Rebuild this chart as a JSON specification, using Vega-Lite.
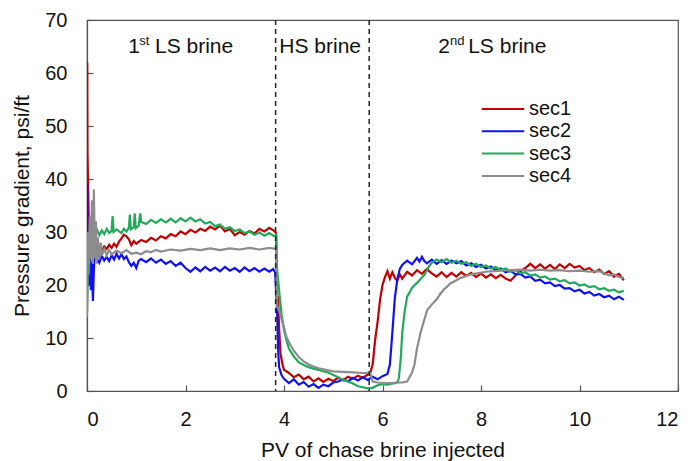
{
  "$schema": "https://vega.github.io/schema/vega-lite/v6.json",
  "width": 591,
  "height": 371,
  "autosize": {"type": "none"},
  "padding": {"left": 87, "top": 20, "right": 13, "bottom": 70},
  "background": "white",
  "config": {
    "font": "Liberation Sans",
    "view": {"stroke": "#555555", "strokeWidth": 1.2},
    "axis": {
      "grid": false,
      "domainColor": "#555555",
      "domainWidth": 1.2,
      "tickColor": "#555555",
      "tickWidth": 1.2,
      "tickSize": -6,
      "labelFont": "Liberation Sans",
      "labelFontSize": 20,
      "labelColor": "#111111",
      "titleFont": "Liberation Sans",
      "titleFontSize": 21,
      "titleFontWeight": "normal",
      "titleColor": "#111111"
    },
    "legend": {
      "orient": "none",
      "legendX": 406,
      "legendY": 79,
      "padding": 0,
      "symbolType": "M-3,0H3",
      "symbolSize": 200,
      "symbolStrokeWidth": 2,
      "labelFont": "Liberation Sans",
      "labelFontSize": 20,
      "labelColor": "#111111",
      "labelOffset": 16,
      "rowPadding": 2.3,
      "title": null
    }
  },
  "datasets": {
    "series": [
      {"s":"sec1","x":0,"y":15},{"s":"sec1","x":0.005,"y":62},{"s":"sec1","x":0.01,"y":45},{"s":"sec1","x":0.02,"y":40},{"s":"sec1","x":0.04,"y":30},{"s":"sec1","x":0.06,"y":22},{"s":"sec1","x":0.1,"y":24},{"s":"sec1","x":0.15,"y":26},{"s":"sec1","x":0.2,"y":25.5},{"s":"sec1","x":0.25,"y":27},{"s":"sec1","x":0.3,"y":26.5},{"s":"sec1","x":0.35,"y":27.3},{"s":"sec1","x":0.4,"y":26.8},{"s":"sec1","x":0.45,"y":27.6},{"s":"sec1","x":0.5,"y":27},{"s":"sec1","x":0.55,"y":27.8},{"s":"sec1","x":0.6,"y":27.2},{"s":"sec1","x":0.65,"y":28.2},{"s":"sec1","x":0.7,"y":28.8},{"s":"sec1","x":0.75,"y":29.5},{"s":"sec1","x":0.8,"y":29.2},{"s":"sec1","x":0.85,"y":28.6},{"s":"sec1","x":0.9,"y":27.5},{"s":"sec1","x":0.95,"y":28.3},{"s":"sec1","x":1.0,"y":27.8},{"s":"sec1","x":1.1,"y":28.5},{"s":"sec1","x":1.2,"y":28.1},{"s":"sec1","x":1.3,"y":28.9},{"s":"sec1","x":1.4,"y":28.4},{"s":"sec1","x":1.5,"y":29.2},{"s":"sec1","x":1.6,"y":28.8},{"s":"sec1","x":1.7,"y":29.6},{"s":"sec1","x":1.8,"y":29.2},{"s":"sec1","x":1.9,"y":30.1},{"s":"sec1","x":2.0,"y":29.6},{"s":"sec1","x":2.1,"y":30.4},{"s":"sec1","x":2.2,"y":29.9},{"s":"sec1","x":2.3,"y":30.6},{"s":"sec1","x":2.4,"y":30.2},{"s":"sec1","x":2.5,"y":31},{"s":"sec1","x":2.6,"y":30.5},{"s":"sec1","x":2.7,"y":31.2},{"s":"sec1","x":2.8,"y":30.1},{"s":"sec1","x":2.9,"y":30.6},{"s":"sec1","x":3.0,"y":29.4},{"s":"sec1","x":3.1,"y":30},{"s":"sec1","x":3.2,"y":29.5},{"s":"sec1","x":3.3,"y":30.2},{"s":"sec1","x":3.4,"y":29.7},{"s":"sec1","x":3.5,"y":30.6},{"s":"sec1","x":3.6,"y":30.1},{"s":"sec1","x":3.7,"y":30.8},{"s":"sec1","x":3.8,"y":30.2},{"s":"sec1","x":3.84,"y":29.8},{"s":"sec1","x":3.86,"y":18},{"s":"sec1","x":3.88,"y":17.5},{"s":"sec1","x":3.9,"y":12},{"s":"sec1","x":3.93,"y":7},{"s":"sec1","x":3.97,"y":5},{"s":"sec1","x":4.0,"y":4},{"s":"sec1","x":4.1,"y":3.4},{"s":"sec1","x":4.2,"y":2.6},{"s":"sec1","x":4.3,"y":3.1},{"s":"sec1","x":4.4,"y":2.2},{"s":"sec1","x":4.5,"y":2.7},{"s":"sec1","x":4.6,"y":1.8},{"s":"sec1","x":4.7,"y":2.4},{"s":"sec1","x":4.8,"y":1.7},{"s":"sec1","x":4.9,"y":2.3},{"s":"sec1","x":5.0,"y":1.9},{"s":"sec1","x":5.1,"y":2.5},{"s":"sec1","x":5.2,"y":2},{"s":"sec1","x":5.3,"y":2.7},{"s":"sec1","x":5.4,"y":2.3},{"s":"sec1","x":5.5,"y":2.9},{"s":"sec1","x":5.6,"y":2.5},{"s":"sec1","x":5.7,"y":3.1},{"s":"sec1","x":5.75,"y":3.4},{"s":"sec1","x":5.8,"y":5},{"s":"sec1","x":5.85,"y":9.6},{"s":"sec1","x":5.9,"y":13},{"s":"sec1","x":5.95,"y":17.2},{"s":"sec1","x":6.0,"y":20},{"s":"sec1","x":6.05,"y":21.5},{"s":"sec1","x":6.1,"y":22.6},{"s":"sec1","x":6.15,"y":21.2},{"s":"sec1","x":6.2,"y":22.4},{"s":"sec1","x":6.25,"y":21.4},{"s":"sec1","x":6.3,"y":20.8},{"s":"sec1","x":6.35,"y":22},{"s":"sec1","x":6.4,"y":21.2},{"s":"sec1","x":6.5,"y":22.5},{"s":"sec1","x":6.6,"y":21.8},{"s":"sec1","x":6.7,"y":22.8},{"s":"sec1","x":6.8,"y":22.1},{"s":"sec1","x":6.9,"y":23},{"s":"sec1","x":7.0,"y":22.2},{"s":"sec1","x":7.1,"y":21.6},{"s":"sec1","x":7.2,"y":22.4},{"s":"sec1","x":7.3,"y":21.5},{"s":"sec1","x":7.4,"y":22.3},{"s":"sec1","x":7.5,"y":21.6},{"s":"sec1","x":7.6,"y":22.4},{"s":"sec1","x":7.7,"y":21.7},{"s":"sec1","x":7.8,"y":22.3},{"s":"sec1","x":7.9,"y":21.5},{"s":"sec1","x":8.0,"y":22.2},{"s":"sec1","x":8.1,"y":21.4},{"s":"sec1","x":8.2,"y":22},{"s":"sec1","x":8.3,"y":21.3},{"s":"sec1","x":8.4,"y":21.9},{"s":"sec1","x":8.5,"y":21.2},{"s":"sec1","x":8.6,"y":20.8},{"s":"sec1","x":8.7,"y":21.8},{"s":"sec1","x":8.8,"y":22.6},{"s":"sec1","x":8.9,"y":23.2},{"s":"sec1","x":9.0,"y":24},{"s":"sec1","x":9.1,"y":23.2},{"s":"sec1","x":9.2,"y":23.9},{"s":"sec1","x":9.3,"y":23.1},{"s":"sec1","x":9.4,"y":23.8},{"s":"sec1","x":9.5,"y":23},{"s":"sec1","x":9.6,"y":23.9},{"s":"sec1","x":9.7,"y":23.2},{"s":"sec1","x":9.8,"y":24},{"s":"sec1","x":9.9,"y":23.3},{"s":"sec1","x":10.0,"y":23.6},{"s":"sec1","x":10.1,"y":22.8},{"s":"sec1","x":10.2,"y":23.2},{"s":"sec1","x":10.3,"y":22.4},{"s":"sec1","x":10.4,"y":22.9},{"s":"sec1","x":10.5,"y":22.1},{"s":"sec1","x":10.6,"y":22.6},{"s":"sec1","x":10.7,"y":21.6},{"s":"sec1","x":10.8,"y":22.1},{"s":"sec1","x":10.9,"y":20.9},
      {"s":"sec2","x":0,"y":20},{"s":"sec2","x":0.005,"y":39},{"s":"sec2","x":0.01,"y":30},{"s":"sec2","x":0.02,"y":25},{"s":"sec2","x":0.04,"y":20},{"s":"sec2","x":0.06,"y":26},{"s":"sec2","x":0.08,"y":19},{"s":"sec2","x":0.1,"y":24},{"s":"sec2","x":0.12,"y":17},{"s":"sec2","x":0.14,"y":23},{"s":"sec2","x":0.16,"y":26},{"s":"sec2","x":0.2,"y":25},{"s":"sec2","x":0.25,"y":24.2},{"s":"sec2","x":0.3,"y":25.5},{"s":"sec2","x":0.35,"y":24.6},{"s":"sec2","x":0.4,"y":25.3},{"s":"sec2","x":0.45,"y":24.5},{"s":"sec2","x":0.5,"y":25.6},{"s":"sec2","x":0.55,"y":24.8},{"s":"sec2","x":0.6,"y":25.9},{"s":"sec2","x":0.65,"y":25},{"s":"sec2","x":0.7,"y":25.8},{"s":"sec2","x":0.75,"y":24.9},{"s":"sec2","x":0.8,"y":25.4},{"s":"sec2","x":0.85,"y":24.3},{"s":"sec2","x":0.9,"y":23.6},{"s":"sec2","x":0.95,"y":24.2},{"s":"sec2","x":1.0,"y":23.2},{"s":"sec2","x":1.05,"y":24.6},{"s":"sec2","x":1.1,"y":24.9},{"s":"sec2","x":1.2,"y":24.3},{"s":"sec2","x":1.3,"y":25},{"s":"sec2","x":1.4,"y":24.2},{"s":"sec2","x":1.5,"y":24.8},{"s":"sec2","x":1.6,"y":24},{"s":"sec2","x":1.7,"y":24.5},{"s":"sec2","x":1.8,"y":23.6},{"s":"sec2","x":1.9,"y":24.2},{"s":"sec2","x":2.0,"y":23.2},{"s":"sec2","x":2.1,"y":22.5},{"s":"sec2","x":2.2,"y":23.3},{"s":"sec2","x":2.3,"y":22.6},{"s":"sec2","x":2.4,"y":23.4},{"s":"sec2","x":2.5,"y":22.7},{"s":"sec2","x":2.6,"y":23.3},{"s":"sec2","x":2.7,"y":22.6},{"s":"sec2","x":2.8,"y":23.4},{"s":"sec2","x":2.9,"y":22.7},{"s":"sec2","x":3.0,"y":23.2},{"s":"sec2","x":3.1,"y":22.5},{"s":"sec2","x":3.2,"y":23.3},{"s":"sec2","x":3.3,"y":22.6},{"s":"sec2","x":3.4,"y":23.2},{"s":"sec2","x":3.5,"y":22.5},{"s":"sec2","x":3.6,"y":23.1},{"s":"sec2","x":3.7,"y":22.5},{"s":"sec2","x":3.78,"y":23},{"s":"sec2","x":3.82,"y":22.4},{"s":"sec2","x":3.86,"y":15},{"s":"sec2","x":3.88,"y":8},{"s":"sec2","x":3.9,"y":4.5},{"s":"sec2","x":3.95,"y":3},{"s":"sec2","x":4.0,"y":2.3},{"s":"sec2","x":4.1,"y":1.5},{"s":"sec2","x":4.2,"y":2.2},{"s":"sec2","x":4.3,"y":1.2},{"s":"sec2","x":4.4,"y":1.7},{"s":"sec2","x":4.5,"y":0.8},{"s":"sec2","x":4.6,"y":1.3},{"s":"sec2","x":4.7,"y":0.6},{"s":"sec2","x":4.8,"y":1.2},{"s":"sec2","x":4.9,"y":0.9},{"s":"sec2","x":5.0,"y":1.6},{"s":"sec2","x":5.1,"y":1.8},{"s":"sec2","x":5.2,"y":2.2},{"s":"sec2","x":5.3,"y":1.8},{"s":"sec2","x":5.4,"y":2.5},{"s":"sec2","x":5.5,"y":2},{"s":"sec2","x":5.6,"y":2.6},{"s":"sec2","x":5.7,"y":2.1},{"s":"sec2","x":5.8,"y":2.7},{"s":"sec2","x":5.9,"y":2.2},{"s":"sec2","x":6.0,"y":2.8},{"s":"sec2","x":6.1,"y":3.2},{"s":"sec2","x":6.15,"y":5},{"s":"sec2","x":6.2,"y":11},{"s":"sec2","x":6.25,"y":17.5},{"s":"sec2","x":6.3,"y":21},{"s":"sec2","x":6.35,"y":23},{"s":"sec2","x":6.4,"y":23.8},{"s":"sec2","x":6.5,"y":24.6},{"s":"sec2","x":6.6,"y":23.9},{"s":"sec2","x":6.7,"y":25.1},{"s":"sec2","x":6.75,"y":24.4},{"s":"sec2","x":6.8,"y":25.3},{"s":"sec2","x":6.85,"y":24.5},{"s":"sec2","x":6.9,"y":24.1},{"s":"sec2","x":7.0,"y":24.8},{"s":"sec2","x":7.1,"y":24},{"s":"sec2","x":7.2,"y":24.7},{"s":"sec2","x":7.3,"y":24},{"s":"sec2","x":7.4,"y":24.6},{"s":"sec2","x":7.5,"y":24.1},{"s":"sec2","x":7.6,"y":24.5},{"s":"sec2","x":7.7,"y":23.7},{"s":"sec2","x":7.8,"y":24.1},{"s":"sec2","x":7.9,"y":23.4},{"s":"sec2","x":8.0,"y":23.8},{"s":"sec2","x":8.1,"y":23.1},{"s":"sec2","x":8.2,"y":23.5},{"s":"sec2","x":8.3,"y":22.8},{"s":"sec2","x":8.4,"y":23.1},{"s":"sec2","x":8.5,"y":22.4},{"s":"sec2","x":8.6,"y":22.7},{"s":"sec2","x":8.7,"y":22},{"s":"sec2","x":8.8,"y":22.1},{"s":"sec2","x":8.9,"y":21.4},{"s":"sec2","x":9.0,"y":21.6},{"s":"sec2","x":9.1,"y":20.8},{"s":"sec2","x":9.2,"y":21},{"s":"sec2","x":9.3,"y":20.3},{"s":"sec2","x":9.4,"y":20.5},{"s":"sec2","x":9.5,"y":19.8},{"s":"sec2","x":9.6,"y":20},{"s":"sec2","x":9.7,"y":19.3},{"s":"sec2","x":9.8,"y":19.4},{"s":"sec2","x":9.9,"y":18.8},{"s":"sec2","x":10.0,"y":19.1},{"s":"sec2","x":10.1,"y":18.4},{"s":"sec2","x":10.2,"y":18.7},{"s":"sec2","x":10.3,"y":18},{"s":"sec2","x":10.4,"y":18.3},{"s":"sec2","x":10.5,"y":17.7},{"s":"sec2","x":10.6,"y":18},{"s":"sec2","x":10.7,"y":17.3},{"s":"sec2","x":10.8,"y":17.8},{"s":"sec2","x":10.9,"y":17.2},
      {"s":"sec3","x":0,"y":15},{"s":"sec3","x":0.01,"y":20},{"s":"sec3","x":0.02,"y":27},{"s":"sec3","x":0.04,"y":22},{"s":"sec3","x":0.06,"y":32},{"s":"sec3","x":0.08,"y":26},{"s":"sec3","x":0.1,"y":30},{"s":"sec3","x":0.12,"y":28},{"s":"sec3","x":0.15,"y":29.5},{"s":"sec3","x":0.2,"y":30.5},{"s":"sec3","x":0.25,"y":29.4},{"s":"sec3","x":0.3,"y":30.3},{"s":"sec3","x":0.35,"y":29.6},{"s":"sec3","x":0.4,"y":30.6},{"s":"sec3","x":0.45,"y":29.8},{"s":"sec3","x":0.5,"y":30.2},{"s":"sec3","x":0.52,"y":33},{"s":"sec3","x":0.54,"y":30},{"s":"sec3","x":0.6,"y":30.5},{"s":"sec3","x":0.7,"y":29.8},{"s":"sec3","x":0.75,"y":30.6},{"s":"sec3","x":0.8,"y":30.1},{"s":"sec3","x":0.85,"y":30.8},{"s":"sec3","x":0.87,"y":33.3},{"s":"sec3","x":0.89,"y":30.5},{"s":"sec3","x":0.95,"y":30.9},{"s":"sec3","x":0.97,"y":33.5},{"s":"sec3","x":0.99,"y":30.7},{"s":"sec3","x":1.05,"y":31.2},{"s":"sec3","x":1.08,"y":33.5},{"s":"sec3","x":1.1,"y":31.9},{"s":"sec3","x":1.2,"y":31.5},{"s":"sec3","x":1.3,"y":32.3},{"s":"sec3","x":1.4,"y":31.7},{"s":"sec3","x":1.5,"y":32.4},{"s":"sec3","x":1.6,"y":31.8},{"s":"sec3","x":1.7,"y":32.5},{"s":"sec3","x":1.8,"y":31.8},{"s":"sec3","x":1.9,"y":32.6},{"s":"sec3","x":2.0,"y":32},{"s":"sec3","x":2.1,"y":32.7},{"s":"sec3","x":2.2,"y":32},{"s":"sec3","x":2.3,"y":32.4},{"s":"sec3","x":2.4,"y":31.6},{"s":"sec3","x":2.5,"y":31.9},{"s":"sec3","x":2.6,"y":31.1},{"s":"sec3","x":2.7,"y":31.4},{"s":"sec3","x":2.8,"y":30.6},{"s":"sec3","x":2.9,"y":30.9},{"s":"sec3","x":3.0,"y":30.2},{"s":"sec3","x":3.1,"y":30.5},{"s":"sec3","x":3.2,"y":29.8},{"s":"sec3","x":3.3,"y":30.1},{"s":"sec3","x":3.4,"y":29.5},{"s":"sec3","x":3.5,"y":29.9},{"s":"sec3","x":3.6,"y":29.3},{"s":"sec3","x":3.7,"y":29.8},{"s":"sec3","x":3.8,"y":29.2},{"s":"sec3","x":3.84,"y":29.5},{"s":"sec3","x":3.86,"y":23},{"s":"sec3","x":3.9,"y":19},{"s":"sec3","x":3.95,"y":14.5},{"s":"sec3","x":4.0,"y":11.5},{"s":"sec3","x":4.05,"y":9.6},{"s":"sec3","x":4.1,"y":8},{"s":"sec3","x":4.2,"y":6.5},{"s":"sec3","x":4.3,"y":5.4},{"s":"sec3","x":4.4,"y":4.9},{"s":"sec3","x":4.5,"y":4.5},{"s":"sec3","x":4.6,"y":4.2},{"s":"sec3","x":4.7,"y":4},{"s":"sec3","x":4.8,"y":3.7},{"s":"sec3","x":4.9,"y":3.5},{"s":"sec3","x":5.0,"y":3},{"s":"sec3","x":5.1,"y":2.6},{"s":"sec3","x":5.2,"y":2.1},{"s":"sec3","x":5.3,"y":1.8},{"s":"sec3","x":5.4,"y":1.4},{"s":"sec3","x":5.5,"y":0.9},{"s":"sec3","x":5.6,"y":0.7},{"s":"sec3","x":5.7,"y":0.5},{"s":"sec3","x":5.8,"y":0.6},{"s":"sec3","x":5.9,"y":1.1},{"s":"sec3","x":6.0,"y":1.3},{"s":"sec3","x":6.1,"y":1.2},{"s":"sec3","x":6.2,"y":1.4},{"s":"sec3","x":6.3,"y":1.6},{"s":"sec3","x":6.33,"y":2.3},{"s":"sec3","x":6.37,"y":6},{"s":"sec3","x":6.4,"y":10.9},{"s":"sec3","x":6.45,"y":15},{"s":"sec3","x":6.5,"y":17.8},{"s":"sec3","x":6.55,"y":18.6},{"s":"sec3","x":6.6,"y":19.5},{"s":"sec3","x":6.7,"y":20.4},{"s":"sec3","x":6.8,"y":21.4},{"s":"sec3","x":6.85,"y":21.9},{"s":"sec3","x":6.9,"y":22.8},{"s":"sec3","x":6.95,"y":23.6},{"s":"sec3","x":7.0,"y":24.2},{"s":"sec3","x":7.1,"y":24.8},{"s":"sec3","x":7.2,"y":24.3},{"s":"sec3","x":7.3,"y":24.9},{"s":"sec3","x":7.4,"y":24.2},{"s":"sec3","x":7.5,"y":24.6},{"s":"sec3","x":7.6,"y":24},{"s":"sec3","x":7.7,"y":24.3},{"s":"sec3","x":7.8,"y":23.6},{"s":"sec3","x":7.9,"y":24},{"s":"sec3","x":8.0,"y":23.4},{"s":"sec3","x":8.1,"y":23.7},{"s":"sec3","x":8.2,"y":23.1},{"s":"sec3","x":8.3,"y":23.4},{"s":"sec3","x":8.4,"y":22.8},{"s":"sec3","x":8.5,"y":23.1},{"s":"sec3","x":8.6,"y":22.5},{"s":"sec3","x":8.7,"y":22.8},{"s":"sec3","x":8.8,"y":22.2},{"s":"sec3","x":8.9,"y":22.4},{"s":"sec3","x":9.0,"y":21.8},{"s":"sec3","x":9.1,"y":22},{"s":"sec3","x":9.2,"y":21.4},{"s":"sec3","x":9.3,"y":21.6},{"s":"sec3","x":9.4,"y":21},{"s":"sec3","x":9.5,"y":21.2},{"s":"sec3","x":9.6,"y":20.7},{"s":"sec3","x":9.7,"y":20.9},{"s":"sec3","x":9.8,"y":20.3},{"s":"sec3","x":9.9,"y":20.5},{"s":"sec3","x":10.0,"y":19.9},{"s":"sec3","x":10.1,"y":20.1},{"s":"sec3","x":10.2,"y":19.6},{"s":"sec3","x":10.3,"y":19.8},{"s":"sec3","x":10.4,"y":19.2},{"s":"sec3","x":10.5,"y":19.4},{"s":"sec3","x":10.6,"y":18.9},{"s":"sec3","x":10.7,"y":19.1},{"s":"sec3","x":10.8,"y":18.6},{"s":"sec3","x":10.9,"y":18.9},
      {"s":"sec4","x":0,"y":14},{"s":"sec4","x":0.01,"y":22},{"s":"sec4","x":0.02,"y":30},{"s":"sec4","x":0.04,"y":24},{"s":"sec4","x":0.06,"y":33},{"s":"sec4","x":0.08,"y":25},{"s":"sec4","x":0.1,"y":36},{"s":"sec4","x":0.12,"y":24},{"s":"sec4","x":0.14,"y":38},{"s":"sec4","x":0.16,"y":25},{"s":"sec4","x":0.18,"y":32},{"s":"sec4","x":0.2,"y":24},{"s":"sec4","x":0.22,"y":29},{"s":"sec4","x":0.25,"y":25},{"s":"sec4","x":0.28,"y":28},{"s":"sec4","x":0.3,"y":25.5},{"s":"sec4","x":0.35,"y":26.8},{"s":"sec4","x":0.4,"y":25.6},{"s":"sec4","x":0.45,"y":26.6},{"s":"sec4","x":0.5,"y":25.8},{"s":"sec4","x":0.6,"y":26.5},{"s":"sec4","x":0.7,"y":26},{"s":"sec4","x":0.8,"y":26.6},{"s":"sec4","x":0.9,"y":25.9},{"s":"sec4","x":1.0,"y":26.1},{"s":"sec4","x":1.1,"y":25.8},{"s":"sec4","x":1.2,"y":26.4},{"s":"sec4","x":1.3,"y":26.2},{"s":"sec4","x":1.4,"y":26.6},{"s":"sec4","x":1.5,"y":26.3},{"s":"sec4","x":1.7,"y":26.7},{"s":"sec4","x":1.9,"y":26.5},{"s":"sec4","x":2.1,"y":26.8},{"s":"sec4","x":2.3,"y":26.6},{"s":"sec4","x":2.5,"y":26.9},{"s":"sec4","x":2.7,"y":26.6},{"s":"sec4","x":2.9,"y":26.9},{"s":"sec4","x":3.1,"y":26.7},{"s":"sec4","x":3.3,"y":27},{"s":"sec4","x":3.5,"y":26.7},{"s":"sec4","x":3.7,"y":27},{"s":"sec4","x":3.84,"y":26.8},{"s":"sec4","x":3.86,"y":16},{"s":"sec4","x":3.9,"y":15.2},{"s":"sec4","x":3.95,"y":13.5},{"s":"sec4","x":4.0,"y":12},{"s":"sec4","x":4.05,"y":10.2},{"s":"sec4","x":4.1,"y":9.2},{"s":"sec4","x":4.2,"y":7.6},{"s":"sec4","x":4.3,"y":6.4},{"s":"sec4","x":4.4,"y":5.6},{"s":"sec4","x":4.5,"y":5},{"s":"sec4","x":4.6,"y":4.6},{"s":"sec4","x":4.7,"y":4.3},{"s":"sec4","x":4.8,"y":4.1},{"s":"sec4","x":4.9,"y":3.9},{"s":"sec4","x":5.0,"y":3.7},{"s":"sec4","x":5.2,"y":3.6},{"s":"sec4","x":5.4,"y":3.5},{"s":"sec4","x":5.6,"y":3.4},{"s":"sec4","x":5.75,"y":3.4},{"s":"sec4","x":5.8,"y":1.8},{"s":"sec4","x":5.9,"y":1.6},{"s":"sec4","x":6.0,"y":1.5},{"s":"sec4","x":6.1,"y":1.5},{"s":"sec4","x":6.2,"y":1.5},{"s":"sec4","x":6.3,"y":1.6},{"s":"sec4","x":6.4,"y":1.6},{"s":"sec4","x":6.5,"y":1.8},{"s":"sec4","x":6.6,"y":3.5},{"s":"sec4","x":6.65,"y":5},{"s":"sec4","x":6.7,"y":8},{"s":"sec4","x":6.77,"y":10.9},{"s":"sec4","x":6.85,"y":13.5},{"s":"sec4","x":6.91,"y":15.3},{"s":"sec4","x":7.0,"y":16.3},{"s":"sec4","x":7.05,"y":16.8},{"s":"sec4","x":7.1,"y":17.3},{"s":"sec4","x":7.18,"y":18.4},{"s":"sec4","x":7.25,"y":19.2},{"s":"sec4","x":7.3,"y":19.6},{"s":"sec4","x":7.38,"y":20.3},{"s":"sec4","x":7.5,"y":20.9},{"s":"sec4","x":7.58,"y":21.3},{"s":"sec4","x":7.7,"y":21.7},{"s":"sec4","x":7.8,"y":22},{"s":"sec4","x":7.92,"y":22.2},{"s":"sec4","x":8.1,"y":22.5},{"s":"sec4","x":8.26,"y":22.6},{"s":"sec4","x":8.4,"y":22.7},{"s":"sec4","x":8.6,"y":22.8},{"s":"sec4","x":8.8,"y":22.9},{"s":"sec4","x":9.0,"y":22.7},{"s":"sec4","x":9.2,"y":22.9},{"s":"sec4","x":9.4,"y":22.7},{"s":"sec4","x":9.6,"y":22.8},{"s":"sec4","x":9.8,"y":22.6},{"s":"sec4","x":10.0,"y":22.7},{"s":"sec4","x":10.2,"y":22.5},{"s":"sec4","x":10.4,"y":22.6},{"s":"sec4","x":10.5,"y":22.2},{"s":"sec4","x":10.6,"y":21.8},{"s":"sec4","x":10.7,"y":22},{"s":"sec4","x":10.8,"y":21.5},{"s":"sec4","x":10.9,"y":21.3}
    ],
    "dividers": [{"x": 3.83}, {"x": 5.73}],
    "mainText": [
      {"t": "1", "x": 0.84, "y": 63.8},
      {"t": "LS brine", "x": 1.38, "y": 63.8},
      {"t": "HS brine", "x": 3.905, "y": 63.8},
      {"t": "2", "x": 7.13, "y": 63.8},
      {"t": "LS brine", "x": 7.74, "y": 63.8}
    ],
    "supText": [
      {"t": "st", "x": 1.06, "y": 65.2},
      {"t": "nd", "x": 7.37, "y": 65.2}
    ]
  },
  "layer": [
    {
      "data": {"name": "series"},
      "mark": {"type": "line", "strokeWidth": 2.2, "clip": true},
      "encoding": {
        "x": {
          "field": "x", "type": "quantitative",
          "scale": {"domain": [0, 12], "nice": false},
          "axis": {"values": [0, 2, 4, 6, 8, 10, 12], "labelPadding": 24, "title": "PV of chase brine injected", "titlePadding": 10}
        },
        "y": {
          "field": "y", "type": "quantitative",
          "scale": {"domain": [0, 70], "nice": false},
          "axis": {"values": [0, 10, 20, 30, 40, 50, 60, 70], "labelPadding": 26, "title": "Pressure gradient, psi/ft", "titlePadding": 12}
        },
        "color": {
          "field": "s", "type": "nominal",
          "scale": {"domain": ["sec1", "sec2", "sec3", "sec4"], "range": ["#C00000", "#1010F0", "#22A95A", "#8C8C8C"]},
          "legend": {"title": null}
        }
      }
    },
    {
      "data": {"name": "dividers"},
      "mark": {"type": "rule", "strokeDash": [5, 4], "color": "#222222", "strokeWidth": 1.5},
      "encoding": {"x": {"field": "x", "type": "quantitative"}}
    },
    {
      "data": {"name": "mainText"},
      "mark": {"type": "text", "align": "left", "baseline": "alphabetic", "fontSize": 21, "font": "Liberation Sans", "color": "#111111"},
      "encoding": {
        "x": {"field": "x", "type": "quantitative"},
        "y": {"field": "y", "type": "quantitative"},
        "text": {"field": "t"}
      }
    },
    {
      "data": {"name": "supText"},
      "mark": {"type": "text", "align": "left", "baseline": "alphabetic", "fontSize": 13, "font": "Liberation Sans", "color": "#111111"},
      "encoding": {
        "x": {"field": "x", "type": "quantitative"},
        "y": {"field": "y", "type": "quantitative"},
        "text": {"field": "t"}
      }
    }
  ]
}
